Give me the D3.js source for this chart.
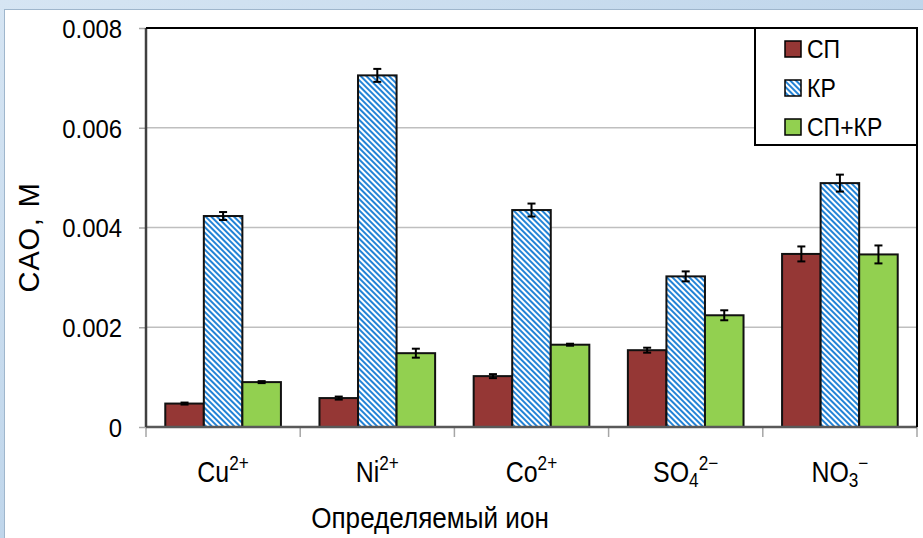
<!DOCTYPE html>
<html>
<head>
<meta charset="utf-8">
<style>
  body { margin: 0; }
  svg text { font-family: "Liberation Sans", sans-serif; fill: #000; }
</style>
</head>
<body>
<svg width="923" height="538"></svg>
<script src="https://cdn.jsdelivr.net/npm/d3@7"></script>
<script>
const ions = ["Cu", "Ni", "Co", "SO4", "NO3"];
const series = ["СП", "КР", "СП+КР"];
const valsSP   = [0.00047, 0.00058, 0.00102, 0.00154, 0.00347];
const valsKR   = [0.00423, 0.00705, 0.00435, 0.00302, 0.00489];
const valsMix  = [0.00090, 0.00148, 0.00165, 0.00224, 0.00346];
const errSP    = [0.00002, 0.00003, 0.00004, 0.00005, 0.00015];
const errKR    = [0.00008, 0.00013, 0.00013, 0.00010, 0.00017];
const errMix   = [0.00002, 0.00009, 0.00002, 0.00010, 0.00018];
const yTicks = [0, 0.002, 0.004, 0.006, 0.008];
const yTickLabels = ["0", "0.002", "0.004", "0.006", "0.008"];
// label parts: [base, subscript, superscript]
const ionLabels = [["Cu", "", "2+"], ["Ni", "", "2+"], ["Co", "", "2+"], ["SO", "4", "2−"], ["NO", "3", "−"]];

const rows = ions.map((ion, i) => ({
  ion,
  bars: [
    { s: 0, v: valsSP[i], e: errSP[i] },
    { s: 1, v: valsKR[i], e: errKR[i] },
    { s: 2, v: valsMix[i], e: errMix[i] }
  ]
}));

const svg = d3.select("svg");

// background frame
const defs = svg.append("defs");
const grad = defs.append("linearGradient").attr("id", "bg").attr("x1", 0).attr("y1", 0).attr("x2", 1).attr("y2", 1);
grad.append("stop").attr("offset", 0).attr("stop-color", "#d6e5f3");
grad.append("stop").attr("offset", 1).attr("stop-color", "#a9c7e3");
svg.append("rect").attr("width", 923).attr("height", 538).attr("fill", "url(#bg)");
svg.append("rect").attr("x", 4.5).attr("y", 9.5).attr("width", 930).attr("height", 540)
  .attr("fill", "#fff").attr("stroke", "#9fb6cc");

// diagonal "\" stripes
const hatch = defs.append("pattern").attr("id", "hatch").attr("patternUnits", "userSpaceOnUse")
  .attr("width", 4).attr("height", 4).attr("patternTransform", "rotate(-45)");
hatch.append("rect").attr("width", 4).attr("height", 4).attr("fill", "#fff");
hatch.append("rect").attr("x", 0).attr("width", 2).attr("height", 4).attr("fill", "#2383d6");

const fills = ["#953735", "url(#hatch)", "#92d050"];

const plotL = 146, plotR = 917, plotT = 28, plotB = 427;

const y = d3.scaleLinear().domain([0, 0.008]).range([plotB, plotT]);
const x = d3.scaleBand().domain(ions).range([plotL, plotR]).padding(0);
const xs = d3.scaleBand().domain([0, 1, 2]).range([0, x.bandwidth()]).paddingInner(0).paddingOuter(0.5);

// gridlines
svg.append("g").selectAll("line").data(yTicks.slice(1, -1)).join("line")
  .attr("x1", plotL).attr("x2", plotR).attr("y1", d => y(d)).attr("y2", d => y(d))
  .attr("stroke", "#bfbfbf").attr("stroke-width", 1.5);

// y axis
const yAxis = svg.append("g").attr("transform", `translate(${plotL},0)`)
  .call(d3.axisLeft(y).tickValues(yTicks).tickFormat((d, i) => yTickLabels[i]).tickSize(7).tickPadding(19));
yAxis.select(".domain").remove();
yAxis.selectAll(".tick line").attr("stroke", "#a6a6a6").attr("stroke-width", 1.5);
yAxis.selectAll(".tick text").attr("font-size", 26).attr("font-family", "Liberation Sans")
  .attr("dy", "0.36em").attr("transform", "scale(0.92,1)");

// x axis ticks
const catEdges = ions.map(d => x(d)).concat([plotR]);
svg.append("g").selectAll("line").data(catEdges).join("line")
  .attr("x1", d => d).attr("x2", d => d).attr("y1", plotB).attr("y2", plotB + 10)
  .attr("stroke", "#a6a6a6").attr("stroke-width", 1.5);

// bars
const groups = svg.append("g").selectAll("g").data(rows).join("g")
  .attr("transform", d => `translate(${x(d.ion)},0)`);
groups.selectAll("rect").data(d => d.bars).join("rect")
  .attr("x", d => xs(d.s)).attr("width", xs.bandwidth())
  .attr("y", d => y(d.v)).attr("height", d => y(0) - y(d.v))
  .attr("fill", d => fills[d.s]).attr("stroke", "#111").attr("stroke-width", 2);

// error bars
const eb = groups.selectAll("g.eb").data(d => d.bars).join("g").attr("class", "eb")
  .attr("transform", d => `translate(${xs(d.s) + xs.bandwidth() / 2},0)`)
  .attr("stroke", "#000").attr("stroke-width", 2);
eb.append("line").attr("y1", d => y(d.v + d.e)).attr("y2", d => y(d.v - d.e));
eb.append("line").attr("x1", -4).attr("x2", 4).attr("y1", d => y(d.v + d.e)).attr("y2", d => y(d.v + d.e));
eb.append("line").attr("x1", -4).attr("x2", 4).attr("y1", d => y(d.v - d.e)).attr("y2", d => y(d.v - d.e));

// axes lines
svg.append("line").attr("x1", plotL).attr("x2", plotR).attr("y1", plotB).attr("y2", plotB)
  .attr("stroke", "#595959").attr("stroke-width", 2.5);
svg.append("line").attr("x1", plotL).attr("x2", plotL).attr("y1", plotT).attr("y2", plotB)
  .attr("stroke", "#404040").attr("stroke-width", 2.5);
svg.append("line").attr("x1", plotL).attr("x2", plotR).attr("y1", plotT).attr("y2", plotT)
  .attr("stroke", "#000").attr("stroke-width", 2);
svg.append("line").attr("x1", plotR).attr("x2", plotR).attr("y1", plotT).attr("y2", plotB)
  .attr("stroke", "#000").attr("stroke-width", 2);

// x tick labels (slightly condensed to resemble the original face)
const xl = svg.append("g").selectAll("g").data(ionLabels).join("g")
  .attr("transform", (d, i) => `translate(${x(ions[i]) + x.bandwidth() / 2},482) scale(0.86,1)`)
  .append("text").attr("text-anchor", "middle").attr("font-size", 29);
xl.append("tspan").text(d => d[0]);
xl.filter(d => d[1]).append("tspan").attr("font-size", 20).attr("dy", 5).text(d => d[1]);
xl.append("tspan").attr("font-size", 20).attr("dy", d => d[1] ? -17 : -12).text(d => d[2]);

// axis titles
svg.append("g").attr("transform", "translate(430,528) scale(0.9,1)")
  .append("text").attr("text-anchor", "middle").attr("font-size", 29).text("Определяемый ион");
svg.append("text").attr("transform", "translate(39,237) rotate(-90)").attr("text-anchor", "middle")
  .attr("font-size", 29).attr("letter-spacing", 1.5).text("САО, М");

// legend
const lg = svg.append("g");
lg.append("rect").attr("x", 755).attr("y", 28).attr("width", 162).attr("height", 117)
  .attr("fill", "#fff").attr("stroke", "#000").attr("stroke-width", 2);
const li = lg.selectAll("g").data(series).join("g")
  .attr("transform", (d, i) => `translate(785,${49 + i * 39})`);
li.append("rect").attr("x", 0).attr("y", -8).attr("width", 16).attr("height", 16)
  .attr("fill", (d, i) => fills[i]).attr("stroke", "#000").attr("stroke-width", 1.5);
li.append("g").attr("transform", "translate(22,0) scale(0.92,1)")
  .append("text").attr("dy", "0.36em").attr("font-size", 25).text(d => d);
</script>
</body>
</html>
